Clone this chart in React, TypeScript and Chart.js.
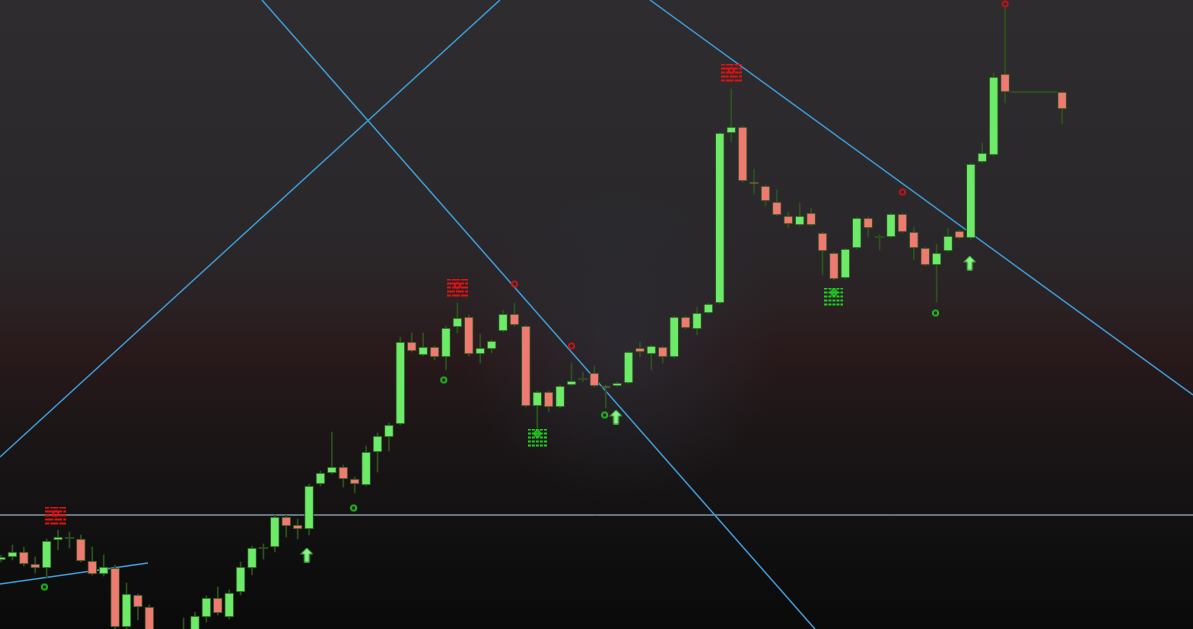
import React, { useEffect, useRef } from "react";
import { Chart, registerables } from "chart.js";
Chart.register(...registerables);

// ---- candle data (index = bar number) ----
const opens = [
  69, 72, 77, 65, 61, 89, 91, 90, 68, 55,
  61, 2, 34, 22, -11, -31, -16, -3, 12, 31,
  12, 37, 61, 81, 82, 112, 104, 100, 145, 156,
  162, 150, 144, 177, 192, 205, 287, 274, 282, 272,
  302, 312, 275, 280, 298, 315, 303, 223, 237, 222,
  244, 250, 256, 243, 243, 246, 281, 275, 282, 272,
  312, 300, 316, 326, 496, 502, 447, 443, 427, 413,
  404, 416, 396, 376, 351, 381, 411, 392, 392, 415,
  397, 381, 364, 378, 398, 391, 467, 474, 555, 537,
  537, 537, 537, 537,
];
const closes = [
  72, 77, 65, 61, 88, 92, 91, 68, 55, 62,
  2, 35, 22, -11, -31, -16, -1, 13, 31, 16,
  36, 62, 81, 81, 112, 103, 100, 143, 156, 162,
  150, 145, 177, 193, 204, 287, 278, 282, 272, 301,
  311, 275, 281, 288, 315, 304, 223, 237, 222, 243,
  248, 250, 243, 241, 246, 277, 277, 283, 272, 312,
  301, 316, 325, 496, 502, 448, 445, 428, 414, 405,
  413, 404, 378, 350, 380, 411, 401, 392, 415, 397,
  381, 364, 376, 393, 391, 465, 476, 552, 537, 537,
  537, 537, 537, 520,
];
const highs = [
  74, 84, 82, 72, 90, 99, 97, 94, 82, 74,
  64, 46, 35, 24, -9, -11, 11, 17, 33, 42,
  39, 67, 83, 85, 114, 114, 110, 145, 158, 197,
  164, 152, 183, 196, 206, 292, 296, 296, 283, 303,
  326, 314, 295, 289, 319, 326, 304, 238, 238, 244,
  266, 257, 263, 244, 247, 278, 287, 284, 283, 313,
  313, 322, 326, 497, 540, 503, 460, 444, 439, 417,
  426, 421, 397, 377, 381, 412, 412, 394, 416, 416,
  402, 382, 385, 401, 399, 466, 486, 556, 621, 537,
  537, 537, 537, 538,
];
const lows = [
  67, 69, 63, 56, 51, 79, 81, 67, 54, 53,
  -1, -3, 9, -21, -41, -36, -21, -7, 7, 14,
  10, 34, 54, 70, 77, 92, 90, 94, 143, 155,
  142, 136, 143, 157, 178, 204, 277, 273, 269, 259,
  296, 273, 266, 276, 297, 303, 222, 201, 217, 221,
  243, 247, 242, 221, 242, 245, 272, 259, 266, 271,
  300, 294, 315, 325, 487, 447, 435, 423, 413, 401,
  403, 403, 354, 349, 350, 380, 392, 379, 391, 396,
  369, 363, 327, 377, 390, 390, 466, 473, 526, 537,
  537, 537, 537, 505,
];

// ---- signal markers [barIndex, price] ----
const redStackMarks = [[4.8, 113], [40, 341], [64, 556]];
const greenStackMarks = [[47, 191], [73, 332]];
const redCircleMarks = [[45, 345], [50, 283], [79, 437], [88, 625]];
const greenCircleMarks = [[3.8, 42], [30.9, 121], [38.8, 249], [52.9, 214], [81.9, 316]];
const upArrowMarks = [[26.8, 74], [53.9, 212], [84.9, 366]];

// ---- drawn trend lines [x0, y0, x1, y1] in bar index / price ----
const trendLines = [
  [22.87, 629, 71.34, 0],
  [-0.09, 172, 43.73, 629],
  [56.88, 629, 104.47, 234],
  [-0.09, 45, 12.88, 66],
];
const horizontalLevel = 114;

const X_MIN = -0.0876;
const X_MAX = 104.47;
const Y_MIN = 0;
const Y_MAX = 629;

const GREEN = "#6eea6a";
const RED = "#ee7a72";
const BORDER = "#2b4f1f";
const WICK = "#2c521e";

function mk(w: number, h: number, draw: (c: CanvasRenderingContext2D) => void) {
  const cv = document.createElement("canvas");
  cv.width = w;
  cv.height = h;
  const c = cv.getContext("2d")!;
  draw(c);
  return cv;
}

function ring(c: CanvasRenderingContext2D, x: number, y: number, color: string) {
  c.beginPath();
  c.arc(x, y, 2.7, 0, Math.PI * 2);
  c.strokeStyle = color;
  c.lineWidth = 1.8;
  c.stroke();
}

const bgPlugin = {
  id: "bg",
  beforeDraw(chart: any) {
    const { ctx, width, height } = chart;
    ctx.save();
    const g = ctx.createLinearGradient(0, 0, 0, height);
    g.addColorStop(0, "#2e2c2f");
    g.addColorStop(0.35, "#2a282b");
    g.addColorStop(0.48, "#2a2224");
    g.addColorStop(0.56, "#29191b");
    g.addColorStop(0.66, "#1e1617");
    g.addColorStop(0.8, "#141213");
    g.addColorStop(1, "#0a0a0a");
    ctx.fillStyle = g;
    ctx.fillRect(0, 0, width, height);
    const r = ctx.createRadialGradient(620, 345, 10, 620, 345, 160);
    r.addColorStop(0, "rgba(45,52,62,0.55)");
    r.addColorStop(1, "rgba(45,52,62,0)");
    ctx.fillStyle = r;
    ctx.fillRect(0, 0, width, height);
    ctx.restore();
  },
};

export default function App() {
  const ref = useRef<HTMLCanvasElement>(null);
  useEffect(() => {
    document.body.style.margin = "0";
    document.body.style.background = "#0a0a0a";
    const redStack = mk(21, 19, (c) => {
      c.fillStyle = "#e01212";
      for (let r = 0; r < 5; r++) {
        for (let x = (r % 2) * 4 - 4; x < 21; x += 9) c.fillRect(x, r * 4, 8, 2);
      }
      ring(c, 10.5, 7, "#e01212");
    });
    const greenStack = mk(19, 19, (c) => {
      c.fillStyle = "#22cc22";
      for (let r = 0; r < 5; r++) for (let k = 0; k < 5; k++) c.fillRect(k * 4, r * 4, 3, 2);
      ring(c, 9.5, 5, "#22cc22");
    });
    const redRing = mk(9, 9, (c) => ring(c, 4.5, 4.5, "#cc1414"));
    const greenRing = mk(9, 9, (c) => ring(c, 4.5, 4.5, "#1fbf1f"));
    const arrow = mk(13, 15, (c) => {
      c.beginPath();
      c.moveTo(6.5, 0.5);
      c.lineTo(12.5, 6.5);
      c.lineTo(9, 6.5);
      c.lineTo(9, 14.5);
      c.lineTo(4, 14.5);
      c.lineTo(4, 6.5);
      c.lineTo(0.5, 6.5);
      c.closePath();
      c.fillStyle = "#86f486";
      c.fill();
      c.strokeStyle = "#3a9a3a";
      c.lineWidth = 1;
      c.stroke();
    });

    const isFlat = (i: number) => highs[i] === lows[i];
    const bodies = opens.map((o, i) => {
      const cl = closes[i];
      let a = Math.min(o, cl);
      let b = Math.max(o, cl);
      if (b - a < 1) {
        const m = (a + b) / 2;
        a = m - 0.6;
        b = m + 0.6;
      }
      return { x: i, y: isFlat(i) ? null : [a, b] };
    });
    const flats = opens.map((o, i) => ({ x: i, y: isFlat(i) ? [o - 0.6, o + 0.6] : null }));
    const bodyColors = opens.map((o, i) => (closes[i] === o ? BORDER : closes[i] > o ? GREEN : RED));
    const wicks = opens.map((_, i) => ({ x: i, y: [lows[i], highs[i]] }));

    const toPts = (arr: number[][]) => arr.map(([x, y]) => ({ x, y }));

    const lineSets: any[] = trendLines.map(([x0, y0, x1, y1]) => ({
      type: "line",
      data: [{ x: x0, y: y0 }, { x: x1, y: y1 }],
      borderColor: "#3d9bd4",
      borderWidth: 1.5,
      pointRadius: 0,
      fill: false,
      order: 10,
    }));
    lineSets.push({
      type: "line",
      data: [{ x: X_MIN, y: horizontalLevel }, { x: X_MAX, y: horizontalLevel }],
      borderColor: "#b4d4e6",
      borderWidth: 1,
      pointRadius: 0,
      fill: false,
      order: 10,
    });

    const markSet = (arr: number[][], img: HTMLCanvasElement) => ({
      type: "scatter",
      data: toPts(arr),
      pointStyle: img,
      pointRadius: 5,
      order: 0,
    });

    const chart = new Chart(ref.current!, {
      type: "bar",
      data: {
        datasets: [
          {
            type: "bar",
            data: bodies as any,
            backgroundColor: bodyColors,
            borderColor: BORDER,
            borderWidth: 1,
            borderSkipped: false,
            barThickness: 9,
            grouped: false,
            order: 1,
          } as any,
          {
            type: "bar",
            data: flats as any,
            backgroundColor: BORDER,
            borderWidth: 0,
            barThickness: 12,
            grouped: false,
            order: 1,
          } as any,
          {
            type: "bar",
            data: wicks as any,
            backgroundColor: WICK,
            borderWidth: 0,
            barThickness: 1,
            grouped: false,
            order: 2,
          } as any,
          ...lineSets,
          markSet(redStackMarks, redStack),
          markSet(greenStackMarks, greenStack),
          markSet(redCircleMarks, redRing),
          markSet(greenCircleMarks, greenRing),
          markSet(upArrowMarks, arrow),
        ],
      },
      options: {
        animation: false,
        responsive: false,
        devicePixelRatio: 1,
        events: [],
        layout: { padding: 0, autoPadding: false },
        plugins: { legend: { display: false }, tooltip: { enabled: false } },
        scales: {
          x: { type: "linear", min: X_MIN, max: X_MAX, display: false, offset: false },
          y: { type: "linear", min: Y_MIN, max: Y_MAX, display: false },
        },
      } as any,
      plugins: [bgPlugin],
    });
    return () => chart.destroy();
  }, []);
  return <canvas ref={ref} width={1193} height={629} style={{ display: "block" }} />;
}
